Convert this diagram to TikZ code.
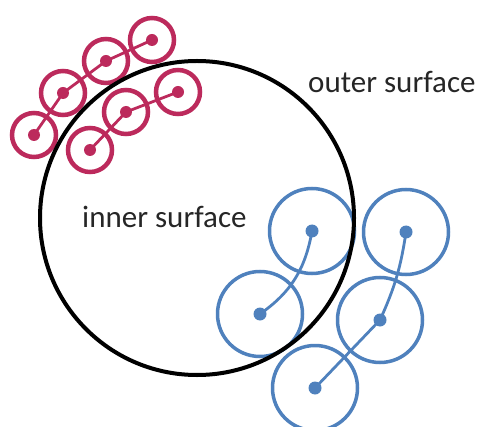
\documentclass[tikz,border=0pt]{standalone}
\usepackage{fontspec}
\setmainfont{Carlito}
\usetikzlibrary{positioning}
\definecolor{cRose}{HTML}{BC2A5C}
\definecolor{cSky}{HTML}{4F81BD}
\tikzset{
	ring/.style={draw=#1, circle, inner sep=0pt},
	smallring/.style={ring=cRose, line width=4.5pt, minimum size=44pt},
	bigring/.style={ring=cSky, line width=3.5pt, minimum size=85pt},
	link/.style={draw=#1, line width=2.8pt},
	lbl/.style={inner sep=0pt, anchor=base west, text=black!85, font=\fontsize{31}{36}\selectfont},
}

\begin{document}
\begin{tikzpicture}[x=1pt, y=-1pt]
		\useasboundingbox (0,0) rectangle (478,427);
		% red chain, outside
		\node[smallring] (r1) at (152,40) {};
		\node[smallring] (r2) at (106,61) {};
		\node[smallring] (r3) at (63,93) {};
		\node[smallring] (r4) at (34,135) {};
		\node[smallring] (r5) at (178,92) {};
		\node[smallring] (r6) at (126,112) {};
		\node[smallring] (r7) at (90,150) {};
		\foreach \a/\b in {r1/r2,r2/r3,r3/r4,r5/r6,r6/r7} \draw[link=cRose] (\a.center) -- (\b.center);
		\foreach \a in {r1,r2,r3,r4,r5,r6,r7} \fill[cRose] (\a.center) circle (6pt);
		% blue chain, inside
		\node[bigring] (b1) at (312,231) {};
		\node[bigring] (b2) at (260,314) {};
		\node[bigring] (b3) at (406,232) {};
		\node[bigring] (b4) at (380,320) {};
		\node[bigring] (b5) at (315,388) {};
		\draw[link=cSky] (b1.center) to[out=-100, in=35] (b2.center);
		\draw[link=cSky] (b3.center) to[bend left=8] (b4.center) -- (b5.center);
		\foreach \a in {b1,b2,b3,b4,b5} \fill[cSky] (\a.center) circle (6.5pt);
		% membrane
		\node[draw, circle, line width=4pt, minimum size=314pt, inner sep=0pt] (cell) at (197,218) {};
		\node[lbl] (outer) at (308,93) {outer surface};
		\node[lbl] (inner) at (82,227) {inner surface};
\end{tikzpicture}
\end{document}
